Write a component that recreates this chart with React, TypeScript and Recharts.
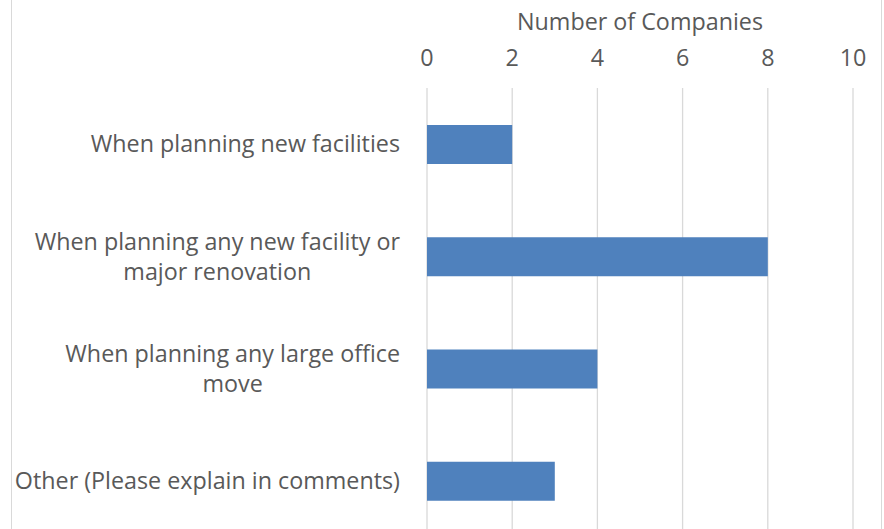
import React from "react";
import { BarChart, Bar, XAxis, YAxis, CartesianGrid } from "recharts";

const categories: string[] = [
  "When planning new facilities",
  "When planning any new facility or\nmajor renovation",
  "When planning any large office\nmove",
  "Other (Please explain in comments)",
];
const companies: number[] = [2, 8, 4, 3];
const xTicks: number[] = [0, 2, 4, 6, 8, 10];
const axisTitle = "Number of Companies";

const data = categories.map((c, i) => ({ category: c, value: companies[i] }));

const FONT_SIZE = 23.3;
const FONT_FAMILY = "'Open Sans'";
const TEXT_COLOR = "#595959";
const LINE_HEIGHT = 30;

let ctx: CanvasRenderingContext2D | null = null;
function measure(t: string): number {
  if (!ctx) {
    const c = document.createElement("canvas");
    ctx = c.getContext("2d");
  }
  if (!ctx) return t.length * FONT_SIZE * 0.5;
  ctx.font = `${FONT_SIZE}px ${FONT_FAMILY}`;
  return ctx.measureText(t).width;
}

const CategoryTick = (props: any) => {
  const { x, y, payload } = props;
  const lines: string[] = String(payload.value).split("\n");
  const w = Math.max(...lines.map(measure));
  const cx = x - w / 2;
  const n = lines.length;
  return (
    <g>
      {lines.map((l, i) => (
        <text
          key={i}
          x={cx}
          y={y + (i - (n - 1) / 2) * LINE_HEIGHT}
          dy="0.35em"
          textAnchor="middle"
          fill={TEXT_COLOR}
          fontSize={FONT_SIZE}
          fontFamily={FONT_FAMILY}
        >
          {l}
        </text>
      ))}
    </g>
  );
};

export default function App() {
  return (
    <div
      style={{
        position: "absolute",
        left: 0,
        top: 0,
        width: 884,
        height: 529,
        overflow: "hidden",
        background: "#fff",
      }}
    >
      <div
        style={{
          position: "absolute",
          left: 11,
          top: 0,
          width: 871,
          height: 529,
          boxSizing: "border-box",
          borderLeft: "1px solid #D9D9D9",
          borderRight: "1px solid #D9D9D9",
        }}
      />
      <div style={{ position: "absolute", left: 0, top: 0 }}>
        <BarChart
          width={884}
          height={537}
          data={data}
          layout="vertical"
          margin={{ top: 0, right: 31, bottom: 0, left: 0 }}
        >
          <CartesianGrid horizontal={false} stroke="#D9D9D9" strokeWidth={1.3} />
          <XAxis
            type="number"
            orientation="top"
            domain={[0, 10]}
            ticks={xTicks}
            height={88}
            axisLine={false}
            tickLine={false}
            tickSize={0}
            tickMargin={22}
            tick={{ fill: TEXT_COLOR, fontSize: FONT_SIZE, fontFamily: FONT_FAMILY }}
            label={{
              value: axisTitle,
              position: "insideTop",
              offset: 13,
              fill: TEXT_COLOR,
              fontSize: FONT_SIZE,
              fontFamily: FONT_FAMILY,
            }}
          />
          <YAxis
            type="category"
            dataKey="category"
            width={427}
            axisLine={false}
            tickLine={false}
            tickSize={0}
            tickMargin={27}
            interval={0}
            tick={<CategoryTick />}
          />
          <Bar dataKey="value" fill="#4F81BD" barSize={39} isAnimationActive={false} />
        </BarChart>
      </div>
    </div>
  );
}
